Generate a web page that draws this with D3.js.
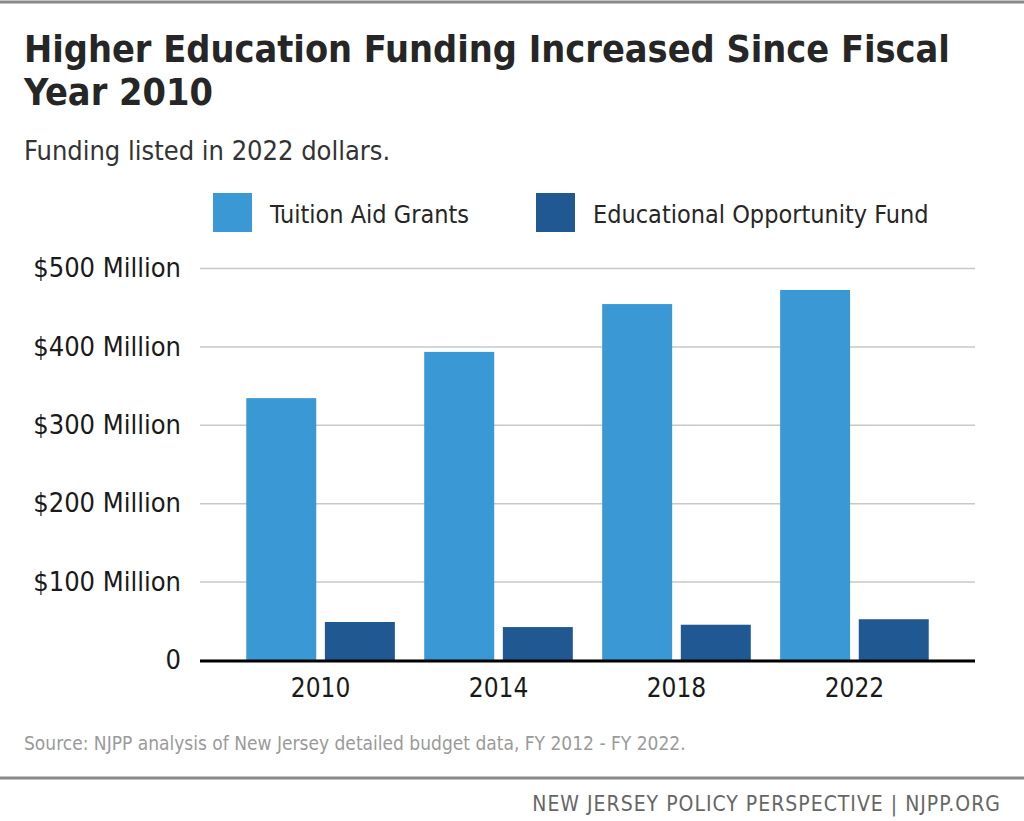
<!DOCTYPE html>
<html>
  <head>
    <meta charset="utf-8">
    <title>Higher Education Funding</title>
    <script src="https://cdnjs.cloudflare.com/ajax/libs/d3/7.8.5/d3.min.js"></script>
    <style>
      body { margin: 0; background: #fff; }
      svg text { font-family: "DejaVu Sans Condensed", "Liberation Sans Narrow", sans-serif; }
    </style>
  </head>
  <body>

    <svg class="chart" width="1024" height="821"></svg>

    <script>

      var years = ['2010', '2014', '2018', '2022'];
      var seriesNames = ['Tuition Aid Grants', 'Educational Opportunity Fund'];
      var tuitionAid = [334, 393, 454, 472];       // $ millions
      var opportunityFund = [48.5, 42, 45, 52];    // $ millions
      var yTicks = [0, 100, 200, 300, 400, 500];
      var colors = ['#3a98d4', '#205891'];

      var rows = years.map(function(y, i) {
        return { year: y, values: [tuitionAid[i], opportunityFund[i]] };
      });

      var svg = d3.select("svg.chart");

      // frame lines
      svg.append("line").attr("x1", 0).attr("x2", 1024).attr("y1", 2).attr("y2", 2)
        .attr("stroke", "#8a8a8a").attr("stroke-width", 3);
      svg.append("line").attr("x1", 0).attr("x2", 1024).attr("y1", 778).attr("y2", 778)
        .attr("stroke", "#8a8a8a").attr("stroke-width", 3);

      // titles
      svg.append("text").attr("x", 24).attr("y", 62)
        .attr("font-size", 37.5).attr("font-weight", "bold").attr("fill", "#262626")
        .text("Higher Education Funding Increased Since Fiscal");
      svg.append("text").attr("x", 24).attr("y", 105)
        .attr("font-size", 37.5).attr("font-weight", "bold").attr("fill", "#262626")
        .text("Year 2010");
      svg.append("text").attr("x", 24).attr("y", 160)
        .attr("font-size", 27).attr("fill", "#333")
        .text("Funding listed in 2022 dollars.");

      // legend
      var legendX = [213, 536];
      var legend = svg.append("g").attr("class", "legend")
        .selectAll("g").data(seriesNames).enter().append("g")
          .attr("transform", function(d, i) { return "translate(" + legendX[i] + ",193)"; });
      legend.append("rect").attr("width", 39).attr("height", 39)
        .attr("fill", function(d, i) { return colors[i]; });
      legend.append("text").attr("x", 57).attr("y", 30)
        .attr("font-size", 25).attr("fill", "#262626")
        .text(function(d) { return d; });

      // scales
      var y = d3.scaleLinear().domain([0, 500]).range([660, 268]);
      var x0 = d3.scaleBand().domain(years).range([200, 975])
        .paddingInner(0.165).paddingOuter(0.26);
      var x1 = d3.scaleBand().domain([0, 1]).range([0, x0.bandwidth()])
        .paddingInner(0.11);

      // grid + y labels
      var yAxis = svg.append("g").attr("class", "y-axis")
        .attr("transform", "translate(200,0)")
        .call(d3.axisLeft(y).tickValues(yTicks).tickSize(-775).tickPadding(19)
          .tickFormat(function(d) { return d === 0 ? "0" : "$" + d + " Million"; }));
      yAxis.select(".domain").remove();
      yAxis.selectAll(".tick line").attr("stroke", "#c8c8c8").attr("stroke-width", 1.5);
      yAxis.selectAll(".tick text").attr("font-size", 27).attr("fill", "#1a1a1a");

      // bars
      svg.append("g").selectAll("g").data(rows).enter().append("g")
        .attr("transform", function(d) { return "translate(" + x0(d.year) + ",0)"; })
        .selectAll("rect").data(function(d) { return d.values; }).enter().append("rect")
          .attr("x", function(d, i) { return x1(i); })
          .attr("y", function(d) { return y(d); })
          .attr("width", x1.bandwidth())
          .attr("height", function(d) { return y(0) - y(d); })
          .attr("fill", function(d, i) { return colors[i]; });

      // x axis
      var xAxis = svg.append("g").attr("class", "x-axis")
        .attr("transform", "translate(0,661)")
        .call(d3.axisBottom(x0).tickSize(0).tickPadding(18));
      xAxis.select(".domain").remove();
      xAxis.selectAll(".tick text").attr("font-size", 26).attr("fill", "#1a1a1a");
      svg.append("line").attr("x1", 200).attr("x2", 975).attr("y1", 661).attr("y2", 661)
        .attr("stroke", "#000").attr("stroke-width", 3);

      // notes
      svg.append("text").attr("x", 24).attr("y", 750)
        .attr("font-size", 19).attr("fill", "#9a9a9a")
        .text("Source: NJPP analysis of New Jersey detailed budget data, FY 2012 - FY 2022.");
      svg.append("text").attr("x", 1001).attr("y", 811).attr("text-anchor", "end")
        .attr("font-size", 21).attr("letter-spacing", 1).attr("fill", "#666")
        .text("NEW JERSEY POLICY PERSPECTIVE | NJPP.ORG");

    </script>
  </body>
</html>
